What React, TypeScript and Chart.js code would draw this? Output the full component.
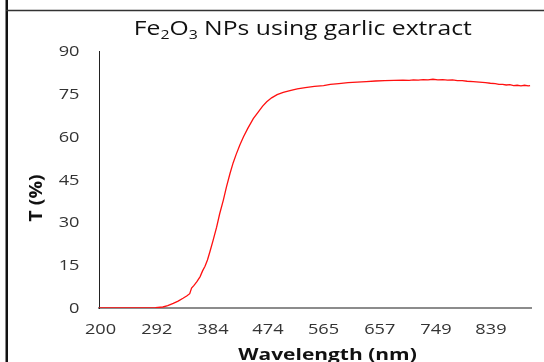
import React, { useEffect, useRef } from "react";
import { Chart, registerables } from "chart.js";

Chart.register(...registerables);

const titleParts = [
  { text: "Fe", sub: false },
  { text: "2", sub: true },
  { text: "O", sub: false },
  { text: "3", sub: true },
  { text: " NPs using garlic extract", sub: false },
];
const xAxisTitle = "Wavelength (nm)";
const yAxisTitle = "T (%)";
const xTickValues = [200, 292, 384, 474, 565, 657, 749, 839];
const yTickValues = [0, 15, 30, 45, 60, 75, 90];

const wavelength = [
  197.5, 240, 281, 290, 302, 310, 319, 327, 335, 341, 346, 349, 353, 358, 363, 367,
  371, 375, 379, 384, 390, 395, 401, 406, 412, 417, 422, 428, 434, 441, 450, 458,
  465, 472, 480, 489, 499, 510, 522, 535, 550, 565, 576, 590, 605, 620, 635, 650,
  665, 680, 695, 705, 712, 720, 728, 736, 744, 752, 760, 768, 776, 784, 792, 800,
  810, 820, 830, 838, 846, 852, 858, 864, 870, 876, 882, 888, 894, 900, 903,
];
const transmittance = [
  0, 0, 0, 0.1, 0.35, 0.8, 1.6, 2.4, 3.4, 4.2, 5.0, 7.0, 7.9, 9.3, 11.0, 13.0,
  14.6, 16.8, 19.7, 23.5, 28.3, 33.0, 37.8, 42.3, 47.2, 50.8, 53.8, 57.1, 60.0, 62.9, 66.3, 68.6,
  70.6, 72.2, 73.6, 74.7, 75.5, 76.1, 76.7, 77.2, 77.6, 77.9, 78.3, 78.6, 78.9, 79.1, 79.3, 79.5,
  79.6, 79.7, 79.8, 79.7, 79.9, 79.8, 80.0, 79.9, 80.1, 79.9, 80.0, 79.8, 79.9, 79.6, 79.6, 79.4,
  79.3, 79.1, 78.9, 78.7, 78.6, 78.3, 78.3, 78.1, 78.2, 77.9, 78.0, 77.8, 78.0, 77.8, 77.9,
];

const FONT = "'Open Sans', 'Noto Sans', sans-serif";

function stretchedText(
  ctx: CanvasRenderingContext2D,
  text: string,
  x: number,
  y: number,
  align: CanvasTextAlign,
  sx: number,
  font: string,
  color: string,
  rotate = 0
) {
  ctx.save();
  ctx.translate(x, y);
  if (rotate) ctx.rotate(rotate);
  ctx.scale(sx, 1);
  ctx.font = font;
  ctx.fillStyle = color;
  ctx.textAlign = align;
  ctx.textBaseline = "alphabetic";
  ctx.fillText(text, 0, 0);
  ctx.restore();
}

const textPlugin = {
  id: "texts",
  afterDraw(chart: any) {
    const ctx: CanvasRenderingContext2D = chart.ctx;
    const xs = chart.scales.x;
    const ys = chart.scales.y;
    ctx.save();
    // frame lines
    ctx.strokeStyle = "#111";
    ctx.lineWidth = 2.5;
    ctx.beginPath();
    ctx.moveTo(6.75, 0);
    ctx.lineTo(6.75, 362);
    ctx.stroke();
    ctx.strokeStyle = "#333";
    ctx.lineWidth = 1.5;
    ctx.beginPath();
    ctx.moveTo(6, 10.5);
    ctx.lineTo(544, 10.5);
    ctx.stroke();

    const tickFont = `14px ${FONT}`;
    const tickSx = 1.3;
    for (const v of yTickValues) {
      stretchedText(ctx, String(v), 79.5, ys.getPixelForValue(v) + 5, "right", tickSx, tickFont, "#333");
    }
    for (const v of xTickValues) {
      stretchedText(ctx, String(v), xs.getPixelForValue(v), 334, "center", tickSx, tickFont, "#333");
    }

    // axis titles
    stretchedText(ctx, xAxisTitle, 327.5, 360, "center", 1.27, `bold 16.5px ${FONT}`, "#111");
    stretchedText(ctx, yAxisTitle, 42, 198, "center", 1.15, `bold 17px ${FONT}`, "#111", -Math.PI / 2);

    // chart title with subscripts
    const big = `19.5px ${FONT}`;
    const small = `12.5px ${FONT}`;
    let total = 0;
    for (const p of titleParts) {
      ctx.font = p.sub ? small : big;
      total += ctx.measureText(p.text).width;
    }
    const targetWidth = 338;
    const sx = targetWidth / total;
    ctx.save();
    ctx.translate(302.8, 34.5);
    ctx.scale(sx, 1);
    ctx.fillStyle = "#111";
    ctx.textAlign = "left";
    ctx.textBaseline = "alphabetic";
    let x = -total / 2;
    for (const p of titleParts) {
      ctx.font = p.sub ? small : big;
      ctx.fillText(p.text, x, p.sub ? 4 : 0);
      x += ctx.measureText(p.text).width;
    }
    ctx.restore();
    ctx.restore();
  },
};

export default function App() {
  const ref = useRef<HTMLCanvasElement>(null);
  useEffect(() => {
    if (!ref.current) return;
    const chart = new Chart(ref.current, {
      type: "line",
      data: {
        datasets: [
          {
            data: wavelength.map((w, i) => ({ x: w, y: transmittance[i] })),
            borderColor: "#ff1010",
            borderWidth: 1.3,
            pointRadius: 0,
            tension: 0,
          },
        ],
      },
      options: {
        animation: false,
        responsive: false,
        maintainAspectRatio: false,
        layout: { padding: { top: 51, right: 13, left: 0, bottom: 0 } },
        plugins: { legend: { display: false }, tooltip: { enabled: false }, title: { display: false } },
        scales: {
          x: {
            type: "linear",
            min: 197.5,
            max: 904.5,
            grid: { display: false, drawTicks: false },
            border: { display: true, color: "#8c8c8c", width: 2 },
            afterBuildTicks: (scale: any) => {
              scale.ticks = xTickValues.map((v) => ({ value: v }));
            },
            afterFit: (scale: any) => {
              scale.height = 54;
            },
            ticks: { display: false },
            title: { display: false },
          },
          y: {
            min: 0,
            max: 90,
            grid: { display: false, drawTicks: false },
            border: { display: true, color: "#222", width: 1 },
            afterBuildTicks: (scale: any) => {
              scale.ticks = yTickValues.map((v) => ({ value: v }));
            },
            afterFit: (scale: any) => {
              scale.width = 99;
            },
            ticks: { display: false },
            title: { display: false },
          },
        },
      },
      plugins: [textPlugin],
    });
    return () => chart.destroy();
  }, []);
  return (
    <div style={{ position: "fixed", left: 0, top: 0, width: 544, height: 362, background: "#fff" }}>
      <canvas ref={ref} width={544} height={362} style={{ display: "block" }} />
    </div>
  );
}
